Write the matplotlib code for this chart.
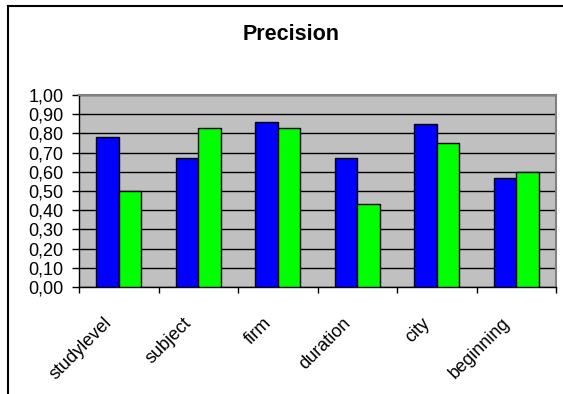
import numpy as np
import matplotlib
matplotlib.use('Agg')
import matplotlib.pyplot as plt
from matplotlib.lines import Line2D
from matplotlib.transforms import ScaledTranslation

plt.rcParams['font.family'] = ['Liberation Sans', 'DejaVu Sans']

# precision per field, two systems
categories = ['studylevel', 'subject', 'firm', 'duration', 'city', 'beginning']
series_a = [0.78, 0.67, 0.86, 0.67, 0.85, 0.57]
series_b = [0.50, 0.83, 0.83, 0.43, 0.75, 0.60]
yticks = np.arange(0, 1.01, 0.1)
ytick_labels = ['%.2f' % v for v in yticks]
ytick_labels = [s.replace('.', ',') for s in ytick_labels]

W, H = 563, 394
fig = plt.figure(figsize=(W / 100, H / 100), dpi=100)

# plot area in pixels
left, right, top, bottom = 79, 556, 95, 287
ax = fig.add_axes([left / W, 1 - bottom / H, (right - left) / W, (bottom - top) / H])
ax.set_facecolor('#C0C0C0')

# excel-style gap width 150%
bw = 1 / 3.5
x = np.arange(len(categories))
ax.bar(x + 0.75 * bw, series_a, width=bw, align='edge', color='#0000FF',
       edgecolor='black', linewidth=1.0, zorder=3)
ax.bar(x + 1.75 * bw, series_b, width=bw, align='edge', color='#00FF00',
       edgecolor='black', linewidth=1.0, zorder=3)

ax.set_xlim(0, len(categories))
ax.set_ylim(0, 1.0)
ax.set_yticks(yticks)
ax.set_yticklabels(ytick_labels, fontsize=13)
ax.yaxis.grid(True, color='black', linewidth=1.0, zorder=1)
ax.set_axisbelow(True)

# ticks between categories, labels at centres
ax.set_xticks(np.arange(len(categories) + 1))
ax.set_xticklabels([])
ax.set_xticks(x + 0.5, minor=True)
ax.set_xticklabels(categories, minor=True, rotation=45, ha='right', va='center',
                   rotation_mode='anchor', fontsize=13)
ax.tick_params(axis='x', which='minor', length=0, pad=24)
ax.tick_params(axis='x', which='major', length=4, width=1, color='black', direction='out')
ax.tick_params(axis='y', length=5, width=1, color='black', direction='out', pad=6)
shift = ScaledTranslation(-9 / 100, 0, fig.dpi_scale_trans)
for lbl in ax.get_xticklabels(minor=True):
    lbl.set_transform(lbl.get_transform() + shift)

for s in ['top', 'right']:
    ax.spines[s].set_color('#808080')
    ax.spines[s].set_linewidth(1.5)
for s in ['left', 'bottom']:
    ax.spines[s].set_color('black')
    ax.spines[s].set_linewidth(1.0)

fig.text(291 / W, 1 - 35 / H, 'Precision', ha='center', va='center',
         fontsize=15.5, fontweight='bold')

# chart frame (top and left edges)
fig.add_artist(Line2D([8 / W, 1], [1 - 6 / H, 1 - 6 / H], color='black', linewidth=1.5,
                      transform=fig.transFigure))
fig.add_artist(Line2D([8 / W, 8 / W], [1 - 6 / H, 0], color='black', linewidth=1.5,
                      transform=fig.transFigure))

fig.savefig('out.png', dpi=100)
